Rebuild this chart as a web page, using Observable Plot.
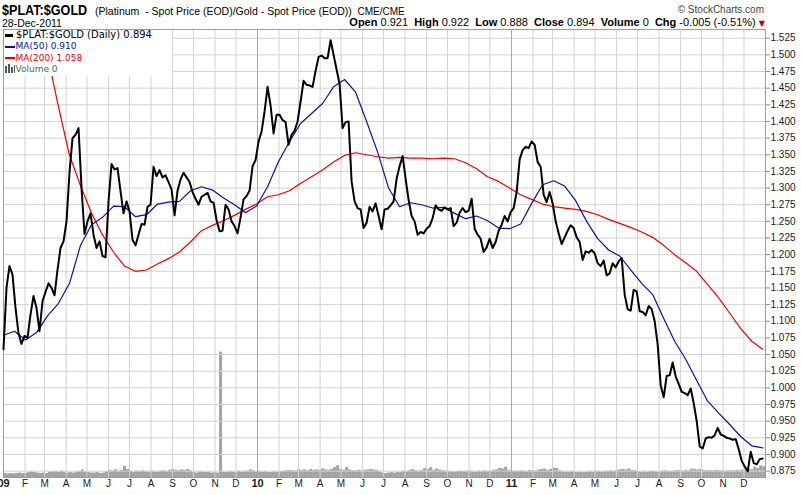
<!DOCTYPE html>
<html>
<head>
<meta charset="utf-8">
<script src="https://cdn.jsdelivr.net/npm/d3@7"></script>
<script src="https://cdn.jsdelivr.net/npm/@observablehq/plot@0.6"></script>
<style>
  html, body { margin: 0; padding: 0; background: #fff; }
  body { width: 801px; height: 495px; overflow: hidden; position: relative; font-family: "Liberation Sans", Arial, sans-serif; color: #000; }
  .abs { position: absolute; white-space: nowrap; }
  .layer { position: absolute; left: 0; top: 28px; }
  #legend { position: absolute; left: 4px; top: 30px; width: 168px; height: 46px; background: #fff; font-family: "DejaVu Sans", Verdana, sans-serif; }
  #legend .t { position: absolute; white-space: nowrap; }
  #legend .m { position: absolute; }
</style>
</head>
<body>
<div class="abs" id="title" style="left:2px;top:2px;font-weight:bold;font-size:15px;line-height:15px;transform:scaleX(0.84);transform-origin:0 0;">$PLAT:$GOLD</div>
<div class="abs" style="left:95px;top:5.5px;font-size:10.5px;line-height:11px;">(Platinum&nbsp; - Spot Price (EOD)/Gold - Spot Price (EOD))&nbsp; <span style="font-size:10px;">CME/CME</span></div>
<div class="abs" style="left:2px;top:17.5px;font-size:10.5px;line-height:11px;">28-Dec-2011</div>
<div class="abs" style="right:37px;top:4.5px;font-size:10px;line-height:10px;color:#444;">&copy; StockCharts.com</div>
<div class="abs" style="right:36px;top:16.5px;font-size:11px;line-height:11px;"><b>Open</b> 0.921&nbsp; <b>High</b> 0.922&nbsp; <b>Low</b> 0.888&nbsp; <b>Close</b> 0.894&nbsp; <b>Volume</b> 0&nbsp; <b>Chg</b> -0.005 (-0.51%) <span style="color:#c00000;font-family:'DejaVu Sans';font-size:8px;">&#9660;</span></div>

<div id="volLayer" class="layer"></div>
<div id="mainLayer" class="layer"></div>

<div id="legend">
  <div class="m" style="left:1px;top:3.5px;width:8px;height:3px;background:#000;"></div>
  <div class="t" style="left:12px;top:-0.8px;font-size:10px;line-height:12px;color:#000;">$PLAT:$GOLD (Daily) 0.894</div>
  <div class="m" style="left:1px;top:15.7px;width:10px;height:2px;background:#10109a;"></div>
  <div class="t" style="left:11.5px;top:11.4px;font-size:9px;line-height:11px;color:#10109a;">MA(50) 0.910</div>
  <div class="m" style="left:1px;top:27.3px;width:10px;height:2px;background:#e80000;"></div>
  <div class="t" style="left:11.5px;top:23px;font-size:9px;line-height:11px;color:#e80000;">MA(200) 1.058</div>
  <div class="m" style="left:1px;top:36px;width:2px;height:7px;background:#4d5f55;"></div>
  <div class="m" style="left:4px;top:34px;width:2px;height:9px;background:#4d5f55;"></div>
  <div class="m" style="left:7px;top:37px;width:2px;height:6px;background:#4d5f55;"></div>
  <div class="m" style="left:10px;top:35px;width:1px;height:8px;background:#4d5f55;"></div>
  <div class="t" style="left:11.5px;top:33.7px;font-size:9px;line-height:11px;color:#3f6f52;">Volume 0</div>
</div>

<script>
// ---- data (Jan 2009 .. 28 Dec 2011) ----
// $PLAT:$GOLD daily ratio, sampled at even spacing from 1 Jan 2009 to 28 Dec 2011
const price = [
  1.058,1.150,1.183,1.170,1.120,1.082,1.066,1.078,1.075,1.110,
  1.138,1.120,1.085,1.130,1.144,1.157,1.150,1.139,1.177,1.210,
  1.220,1.250,1.324,1.375,1.380,1.390,1.300,1.231,1.250,1.262,
  1.230,1.210,1.220,1.198,1.196,1.280,1.336,1.328,1.330,1.295,
  1.262,1.280,1.265,1.222,1.214,1.230,1.246,1.245,1.272,1.275,
  1.332,1.318,1.327,1.316,1.319,1.309,1.298,1.259,1.296,1.313,
  1.323,1.316,1.309,1.294,1.284,1.275,
  1.287,1.290,1.293,1.280,
  1.278,1.252,1.235,1.236,1.275,1.268,1.250,1.243,1.232,1.256,
  1.283,1.288,1.296,1.333,1.342,1.370,1.385,1.415,1.452,1.424,
  1.382,1.410,1.410,1.402,1.399,1.365,1.380,1.386,1.400,1.430,
  1.461,1.455,1.454,1.452,1.476,1.497,1.499,1.495,1.495,1.522,
  1.500,1.478,1.456,1.390,1.399,1.400,1.310,1.280,1.270,1.268,
  1.240,1.248,1.272,1.265,1.277,1.258,1.238,1.268,1.269,1.274,
  1.280,
  1.314,1.333,1.348,1.314,1.282,1.258,1.250,1.230,1.234,
  1.232,1.239,1.243,1.255,1.274,1.268,1.266,1.271,1.268,1.270,
  1.243,1.248,1.263,1.270,1.264,1.266,1.284,1.239,1.230,1.224,
  1.204,1.211,1.224,1.210,1.219,1.236,1.245,1.258,1.250,1.264,
  1.270,1.294,1.343,1.357,1.362,1.360,1.370,1.365,1.339,1.332,
  1.290,1.279,1.294,1.277,1.250,1.232,1.216,1.226,1.236,1.244,
  1.240,1.226,1.219,1.192,1.205,1.203,1.207,1.202,1.187,1.183,
  1.191,1.169,1.172,1.187,1.181,1.190,1.195,1.140,1.118,1.116,
  1.147,1.145,1.115,1.114,1.109,1.123,1.118,1.100,1.065,1.004,
  0.986,1.018,1.019,1.038,1.017,1.006,0.994,0.992,0.989,0.999,
  0.977,0.950,0.912,0.909,0.924,0.926,0.925,0.929,0.940,0.930,
  0.928,0.925,0.924,0.922,0.923,0.908,0.890,0.882,0.875,0.904,
  0.887,0.885,0.893,0.894
];
// 50-day moving average, evenly spaced 1 Jan 2009 .. 28 Dec 2011
const ma50 = [
  1.079,1.085,1.072,1.083,1.108,1.127,1.157,1.214,1.245,1.256,
  1.273,1.272,1.257,1.260,1.276,1.279,1.280,1.296,1.302,1.297,
  1.285,1.275,1.263,1.273,1.302,1.340,1.370,1.397,1.412,1.427,
  1.452,1.463,1.444,1.400,1.354,1.300,1.272,1.278,1.275,1.270,
  1.271,1.262,1.254,1.258,1.251,1.240,1.239,1.246,1.277,1.305,
  1.311,1.303,1.281,1.250,1.224,1.207,1.198,1.177,1.157,1.140,
  1.104,1.070,1.043,1.011,0.980,0.962,0.945,0.927,0.913,0.910
];
// 200-day moving average, visible from 5 Mar 2009 .. 28 Dec 2011
const ma200 = [
  1.500,1.423,1.350,1.304,1.263,1.230,1.204,1.183,1.175,1.177,
  1.186,1.194,1.204,1.219,1.236,1.244,1.251,1.259,1.268,1.276,
  1.287,1.290,1.296,1.307,1.317,1.327,1.339,1.349,1.353,1.350,
  1.347,1.345,1.346,1.345,1.345,1.344,1.345,1.344,1.338,1.329,
  1.317,1.310,1.300,1.290,1.283,1.276,1.272,1.270,1.268,1.265,
  1.260,1.253,1.247,1.241,1.234,1.226,1.214,1.200,1.188,1.175,
  1.155,1.135,1.112,1.089,1.070,1.058
];
// volume (relative units), same spacing as price
const volume = [
  0.9,0.8,0.9,0.8,0.9,1.0,0.9,0.9,1.1,1.3,
  1.1,1.0,0.9,1.0,0.9,1.2,1.3,1.3,1.2,1.4,
  1.2,1.0,1.1,1.0,1.2,1.3,1.7,1.2,1.1,1.0,
  1.0,1.1,0.9,1.0,1.3,1.6,1.5,1.7,1.4,1.6,
  2.5,1.8,1.4,1.2,1.4,1.3,1.5,1.3,1.2,1.4,
  1.3,1.2,1.4,1.5,1.3,1.6,1.8,1.6,1.5,1.7,
  1.6,1.8,1.5,1.1,1.0,1.3,1.2,1.1,1.2,1.0,
  1.1,1.0,28.0,1.2,1.1,1.3,1.2,1.1,1.4,1.2,
  1.3,1.4,1.7,1.5,1.2,1.3,1.2,1.3,1.1,1.2,
  1.3,1.2,1.3,1.4,1.5,1.6,1.5,1.4,1.7,1.6,
  1.7,1.5,1.8,1.6,1.7,1.6,1.9,1.7,1.6,1.8,
  2.2,2.6,1.8,1.6,2.2,1.7,1.5,1.4,1.6,1.5,
  1.6,1.7,1.8,1.7,1.6,1.3,1.0,0.9,1.0,1.1,
  1.0,1.2,1.1,1.4,1.3,1.6,1.8,1.5,1.4,1.6,
  2.0,1.8,2.2,1.6,1.9,1.7,1.5,1.4,1.3,1.3,
  1.2,1.3,1.4,1.3,1.4,1.5,1.3,1.2,1.4,1.3,
  1.5,1.3,1.4,1.6,1.7,2.0,1.9,2.3,1.6,1.4,
  1.4,1.3,1.5,1.4,1.3,1.6,1.5,1.4,1.7,1.8,
  1.9,1.6,1.8,2.1,2.0,1.5,1.3,1.2,1.2,1.3,
  1.2,1.1,1.2,1.1,1.2,1.3,1.2,1.4,1.3,1.2,
  1.3,1.4,1.5,1.3,1.6,1.7,1.8,1.7,1.9,1.6,
  1.5,1.3,1.2,1.3,1.2,1.3,1.4,1.3,1.2,1.4,
  1.5,1.4,1.3,1.4,1.6,1.5,1.4,1.6,1.5,1.9,
  1.8,1.7,1.8,1.6,1.5,1.5,1.4,1.6,1.5,1.5,
  1.4,1.5,1.4,1.5,1.6,1.5,1.7,1.8,1.9,1.7,
  2.3,2.0,2.6,2.4
];
const yTicks = [0.875,0.900,0.925,0.950,0.975,1.000,1.025,1.050,1.075,1.100,1.125,1.150,1.175,
  1.200,1.225,1.250,1.275,1.300,1.325,1.350,1.375,1.400,1.425,1.450,1.475,1.500,1.525];
const monthLabels = ["J","F","M","A","M","J","J","A","S","O","N","D"];

// ---- layout ----
const W = 801, H = 467;
const M = {top: 1, right: 36, bottom: 18, left: 3};
const start = new Date(Date.UTC(2009, 0, 1));
const end = new Date(Date.UTC(2012, 0, 1));
const lastDay = new Date(Date.UTC(2011, 11, 28));
const ma200First = new Date(Date.UTC(2009, 2, 5));

function spread(vals, from, to) {
  const n = vals.length, step = (to - from) / (n - 1);
  return vals.map((v, i) => ({date: new Date(+from + i * step), next: new Date(+from + (i + 1) * step), value: v}));
}
const priceData = spread(price, start, lastDay);
const ma50Data = spread(ma50, start, lastDay);
const ma200Data = spread(ma200, ma200First, lastDay);
const volData = spread(volume, start, lastDay);

const months = d3.utcMonth.range(start, end);
const janMonths = months.filter(d => d.getUTCMonth() === 0);
const otherMonths = months.filter(d => d.getUTCMonth() !== 0);

const common = {
  width: W, height: H,
  marginTop: M.top, marginRight: M.right, marginBottom: M.bottom, marginLeft: M.left,
  x: {type: "utc", domain: [start, end]}
};

const volPlot = Plot.plot({
  ...common,
  style: {background: "#fff"},
  x: {...common.x, axis: null},
  y: {domain: [0, 100], axis: null},
  marks: [
    Plot.rectY(volData, {x1: "date", x2: "next", y: "value", fill: "#a3a3a3"})
  ]
});
document.getElementById("volLayer").appendChild(volPlot);

const mainPlot = Plot.plot({
  ...common,
  style: {background: "transparent", fontFamily: '"Liberation Sans", Arial, sans-serif', fontSize: "10px", color: "#1a1a1a"},
  y: {domain: [0.8654, 1.5381]},
  marks: [
    Plot.gridY(yTicks, {stroke: "#d2d2d2", strokeOpacity: 1}),
    Plot.gridX(otherMonths, {stroke: "#d2d2d2", strokeOpacity: 1}),
    Plot.gridX(janMonths, {stroke: "#a8a8a8", strokeOpacity: 1}),
    Plot.frame({stroke: "#9c9c9c"}),
    Plot.lineY(ma200Data, {x: "date", y: "value", stroke: "#f00000", strokeWidth: 1.2}),
    Plot.lineY(ma50Data, {x: "date", y: "value", stroke: "#10109a", strokeWidth: 1.2}),
    Plot.lineY(priceData, {x: "date", y: "value", stroke: "#000", strokeWidth: 2, strokeLinejoin: "round"}),
    Plot.axisY(yTicks, {anchor: "right", label: null, tickFormat: d3.format(".3f"), tickSize: 4, tickPadding: 1, stroke: "#8a8a8a", fontSize: 10}),
    Plot.axisX(otherMonths, {anchor: "bottom", label: null, tickFormat: d => monthLabels[d.getUTCMonth()], tickSize: 0, tickPadding: 2, fontSize: 10}),
    Plot.axisX(janMonths, {anchor: "bottom", label: null, tickFormat: d3.utcFormat("%y"), tickSize: 0, tickPadding: 1.5, fontSize: 11, fontWeight: "bold"})
  ]
});
document.getElementById("mainLayer").appendChild(mainPlot);
</script>
</body>
</html>
